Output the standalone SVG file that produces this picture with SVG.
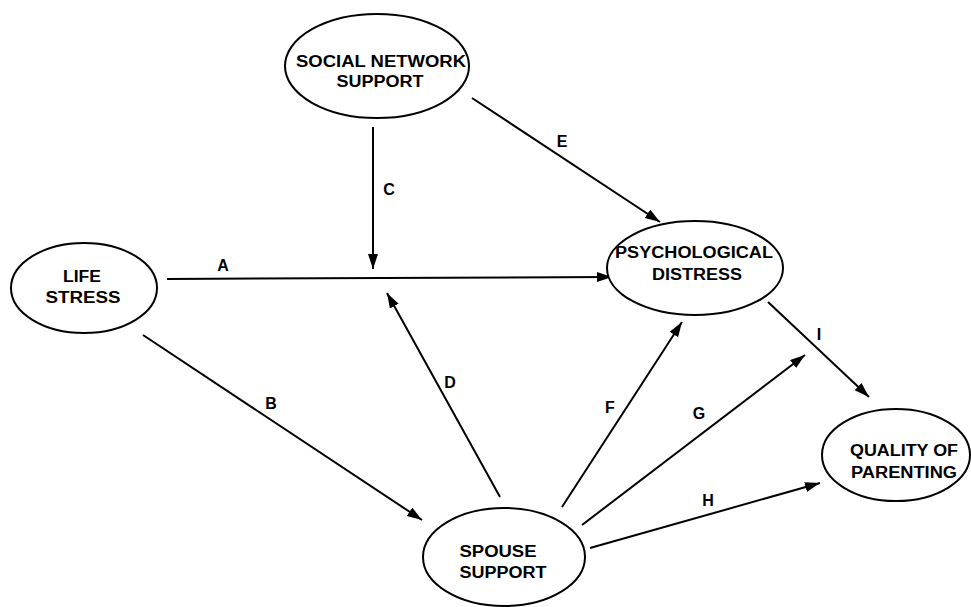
<svg xmlns="http://www.w3.org/2000/svg" width="971" height="607" viewBox="0 0 971 607">
<style>
.node ellipse{fill:#fff;stroke:#000;stroke-width:2}
.node text{font-family:"Liberation Sans",Arial,sans-serif;font-weight:bold;font-size:16px;fill:#000;text-anchor:middle}
.edge line{stroke:#000;stroke-width:2;fill:none}
.lbl{font-family:"Liberation Sans",Arial,sans-serif;font-weight:bold;font-size:16px;fill:#000;text-anchor:middle}
</style>
<defs>
<marker id="ah" markerUnits="userSpaceOnUse" markerWidth="16" markerHeight="11" refX="15" refY="5" orient="auto">
<path d="M0,0 L15,5 L0,10 z" fill="#000"/>
</marker>
</defs>
<rect width="971" height="607" fill="#fff"/>
<g id="connectors" class="edge">
<line x1="167" y1="279" x2="612" y2="277" marker-end="url(#ah)"/>
<line x1="143" y1="335" x2="422" y2="520" marker-end="url(#ah)"/>
<line x1="373" y1="127" x2="373" y2="269" marker-end="url(#ah)"/>
<line x1="500" y1="497" x2="387" y2="293" marker-end="url(#ah)"/>
<line x1="472" y1="98" x2="660" y2="222" marker-end="url(#ah)"/>
<line x1="562" y1="507" x2="682" y2="322" marker-end="url(#ah)"/>
<line x1="582" y1="525" x2="805" y2="355" marker-end="url(#ah)"/>
<line x1="590" y1="548" x2="820" y2="483" marker-end="url(#ah)"/>
<line x1="768" y1="302" x2="869" y2="397" marker-end="url(#ah)"/>
<text class="lbl" x="223" y="271">A</text>
<text class="lbl" x="271" y="409">B</text>
<text class="lbl" x="389" y="195">C</text>
<text class="lbl" x="450" y="388">D</text>
<text class="lbl" x="562" y="147">E</text>
<text class="lbl" x="610" y="413">F</text>
<text class="lbl" x="699" y="419">G</text>
<text class="lbl" x="708" y="506">H</text>
<text class="lbl" x="819" y="340">I</text>
</g>
<g id="social" class="node">
<ellipse cx="377" cy="66" rx="92" ry="52"/>
<text x="381" y="67" textLength="170" lengthAdjust="spacingAndGlyphs">SOCIAL NETWORK</text>
<text x="380" y="87" textLength="87" lengthAdjust="spacingAndGlyphs">SUPPORT</text>
</g>
<g id="life" class="node">
<ellipse cx="84" cy="288" rx="73" ry="45"/>
<text x="82" y="282" textLength="38" lengthAdjust="spacingAndGlyphs">LIFE</text>
<text x="83" y="303" textLength="75" lengthAdjust="spacingAndGlyphs">STRESS</text>
</g>
<g id="psych" class="node">
<ellipse cx="695" cy="268" rx="88" ry="47"/>
<text x="694" y="258" textLength="158" lengthAdjust="spacingAndGlyphs">PSYCHOLOGICAL</text>
<text x="697" y="280" textLength="90" lengthAdjust="spacingAndGlyphs">DISTRESS</text>
</g>
<g id="quality" class="node">
<ellipse cx="896" cy="455" rx="74" ry="46"/>
<text x="904" y="456" textLength="108" lengthAdjust="spacingAndGlyphs">QUALITY OF</text>
<text x="904" y="478" textLength="106" lengthAdjust="spacingAndGlyphs">PARENTING</text>
</g>
<g id="spouse" class="node">
<ellipse cx="504" cy="557" rx="81" ry="49"/>
<text x="498" y="557" textLength="77" lengthAdjust="spacingAndGlyphs">SPOUSE</text>
<text x="503" y="578" textLength="87" lengthAdjust="spacingAndGlyphs">SUPPORT</text>
</g>
</svg>
